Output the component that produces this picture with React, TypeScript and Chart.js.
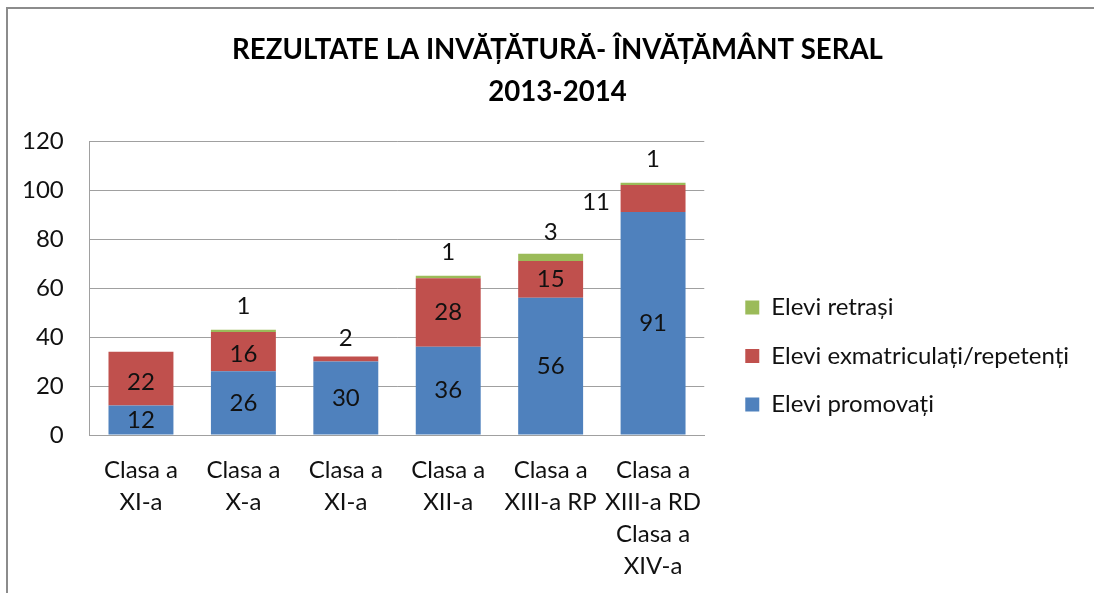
import React, { useEffect, useRef } from 'react';
import { Chart, registerables } from 'chart.js';

Chart.register(...registerables);

const titleLines = ['REZULTATE LA INVĂȚĂTURĂ- ÎNVĂȚĂMÂNT SERAL', '2013-2014'];
const categories = [
  ['Clasa a', 'XI-a'],
  ['Clasa a', 'X-a'],
  ['Clasa a', 'XI-a'],
  ['Clasa a', 'XII-a'],
  ['Clasa a', 'XIII-a RP'],
  ['Clasa a', 'XIII-a RD', 'Clasa a', 'XIV-a'],
];
const seriesNames = ['Elevi promovați', 'Elevi exmatriculați/repetenți', 'Elevi retrași'];
const promovati = [12, 26, 30, 36, 56, 91];
const exmatriculati = [22, 16, 2, 28, 15, 11];
const retrasi = [0, 1, 0, 1, 3, 1];
const yMin = 0;
const yMax = 120;
const yStep = 20;

const colors = ['#4F81BD', '#C0504D', '#9BBB59'];
const FONT = 'Lato';

// label placement tweaks (style, not data): [dx, dy] per "dataset:index"
const labelOffsets: Record<string, [number, number]> = {
  '1:0': [0, 4],
  '1:1': [0, 3],
  '1:2': [0, -21],
  '1:5': [-57, 4],
};
const topSeriesOffset: [number, number] = [0, -25];

const dataLabelPlugin = {
  id: 'dataLabels',
  afterDatasetsDraw(chart: any) {
    const ctx = chart.ctx;
    ctx.save();
    ctx.font = `24px ${FONT}`;
    ctx.fillStyle = '#111';
    ctx.textAlign = 'center';
    ctx.textBaseline = 'middle';
    chart.data.datasets.forEach((ds: any, di: number) => {
      const meta = chart.getDatasetMeta(di);
      meta.data.forEach((bar: any, i: number) => {
        const v = ds.data[i];
        if (!v) return;
        const p = bar.getProps(['x', 'y', 'base'], true);
        const off = labelOffsets[`${di}:${i}`] || (di === 2 ? topSeriesOffset : [0, 0]);
        ctx.fillText(String(v), p.x + off[0], (p.y + p.base) / 2 + off[1]);
      });
    });
    ctx.restore();
  },
};

// nudge the title block slightly right, as in the reference
const titleShiftPlugin = {
  id: 'titleShift',
  afterLayout(chart: any) {
    if (chart.titleBlock) chart.titleBlock.left += 14;
  },
};

export default function App() {
  const ref = useRef<HTMLCanvasElement | null>(null);
  useEffect(() => {
    if (!ref.current) return;
    Chart.defaults.font.family = FONT;
    const grid = '#a0a0a0';
    const chart = new Chart(ref.current, {
      type: 'bar',
      data: {
        labels: categories,
        datasets: [
          { label: seriesNames[0], data: promovati, backgroundColor: colors[0], borderWidth: 0, yAxisID: 'y', xAxisID: 'x' },
          { label: seriesNames[1], data: exmatriculati, backgroundColor: colors[1], borderWidth: 0, yAxisID: 'y', xAxisID: 'x' },
          { label: seriesNames[2], data: retrasi, backgroundColor: colors[2], borderWidth: 0, yAxisID: 'y', xAxisID: 'x' },
        ],
      },
      options: {
        responsive: false,
        animation: false,
        devicePixelRatio: 1,
        layout: { padding: { left: 14, right: 15, top: 0, bottom: 11 } },
        datasets: { bar: { barPercentage: 0.634, categoryPercentage: 1 } },
        plugins: {
          tooltip: { enabled: false },
          title: {
            display: true,
            text: titleLines,
            color: '#000',
            font: { family: FONT, size: 27.6, weight: 'bold', lineHeight: '42px' },
            padding: { top: 20, bottom: 28 },
          },
          legend: {
            position: 'right',
            align: 'start',
            reverse: true,
            maxWidth: 600,
            title: {
              display: true,
              text: ' ',
              font: { size: 1, lineHeight: 1 },
              padding: { top: 261, bottom: 0 },
            },
            labels: {
              boxWidth: 14,
              boxHeight: 14,
              padding: 24.5,
              color: '#111',
              font: { family: FONT, size: 24 },
            },
          },
        },
        scales: {
          x: {
            stacked: true,
            grid: { display: false, drawTicks: false },
            border: { display: true, color: grid, width: 1 },
            ticks: {
              color: '#111',
              font: { family: FONT, size: 24, lineHeight: '32px' },
              padding: 19,
              maxRotation: 0,
              autoSkip: false,
            },
            afterFit: (s: any) => { s.height -= s.options.ticks.padding; },
          },
          y: {
            stacked: true,
            min: yMin,
            max: yMax,
            grid: { color: grid, lineWidth: 1, drawTicks: false },
            border: { display: true, color: grid, width: 1 },
            ticks: {
              stepSize: yStep,
              color: '#111',
              font: { family: FONT, size: 24 },
              padding: 26,
            },
            afterFit: (s: any) => { s.width -= s.options.ticks.padding; },
          },
          r: {
            type: 'linear',
            position: 'right',
            display: true,
            grid: { display: false, drawTicks: false },
            border: { display: false },
            ticks: { display: false },
            afterFit: (s: any) => { s.width = 16.5; },
          },
        },
      },
      plugins: [dataLabelPlugin, titleShiftPlugin],
    } as any);
    return () => chart.destroy();
  }, []);

  return (
    <div
      style={{
        position: 'fixed',
        left: 6,
        top: 7,
        width: 1088,
        height: 586,
        boxSizing: 'border-box',
        borderTop: '2px solid #8c8c8c',
        borderLeft: '2px solid #8c8c8c',
        background: '#fff',
      }}
    >
      <canvas ref={ref} width={1086} height={584} style={{ display: 'block' }} />
    </div>
  );
}
